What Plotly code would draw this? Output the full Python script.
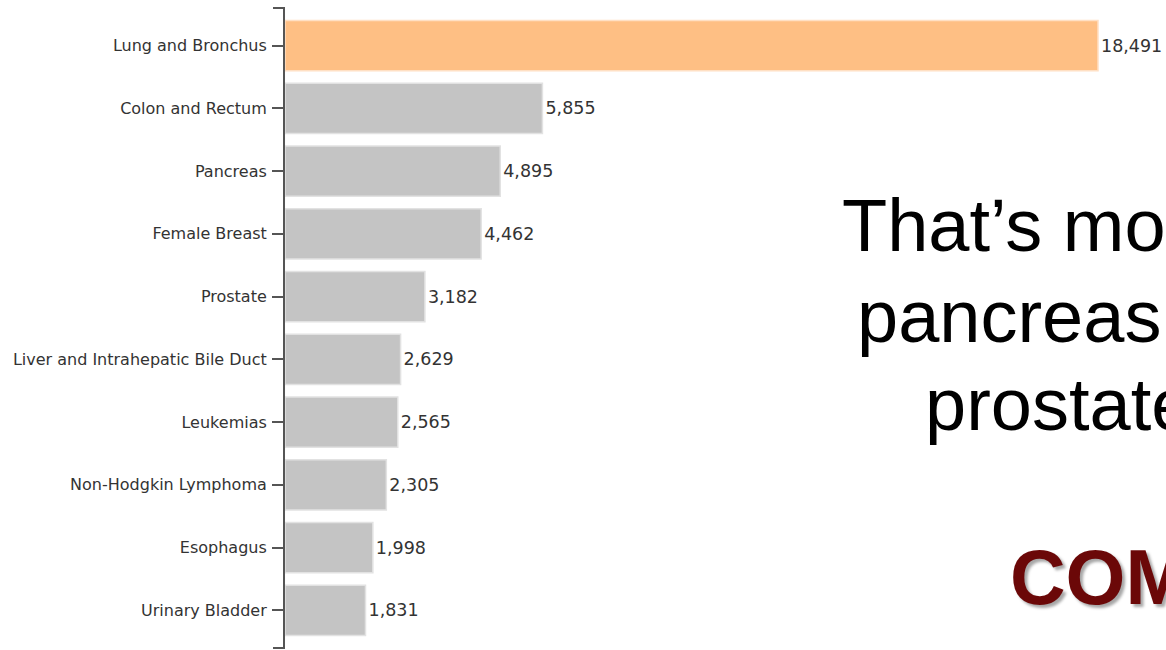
import plotly.graph_objects as go

categories = ["Lung and Bronchus", "Colon and Rectum", "Pancreas", "Female Breast",
              "Prostate", "Liver and Intrahepatic Bile Duct", "Leukemias",
              "Non-Hodgkin Lymphoma", "Esophagus", "Urinary Bladder"]
values = [18491, 5855, 4895, 4462, 3182, 2629, 2565, 2305, 1998, 1831]
highlight = "Lung and Bronchus"

slide_lines = ["That’s mo", "pancreas", "prostate"]
slide_emphasis = "COM"

W, H = 1166, 650
L, R, T, B = 285, 0, 8, 2
pw, ph = W - L - R, H - T - B

colors = ["#FEBF84" if c == highlight else "#C4C4C4" for c in categories]
lines = ["#FFE0C4" if c == highlight else "#E2E2E2" for c in categories]

fig = go.Figure(go.Bar(
    x=values, y=categories, orientation="h",
    marker=dict(color=colors, line=dict(color=lines, width=1.5)),
    text=values, texttemplate="%{x:,}", textposition="outside",
    textfont=dict(family="DejaVu Sans", size=17.5, color="#333333"),
    cliponaxis=False,
))

px_per_unit = (1098 - 285) / values[0]
fig.update_xaxes(range=[0, pw / px_per_unit], visible=False)
fig.update_yaxes(
    type="category", categoryorder="array", categoryarray=categories,
    range=[len(categories) - 0.4, -0.6],
    showline=True, linecolor="#555555", linewidth=2,
    ticks="outside", ticklen=11, tickwidth=1.5, tickcolor="#555555",
    ticklabelstandoff=2,
    tickfont=dict(family="DejaVu Sans", size=16, color="#333333"),
    showgrid=False, zeroline=False,
)

def xp(px):
    return (px - L) / pw

def yp(py):
    return (H - B - py) / ph

shapes = [
    dict(type="line", xref="paper", yref="paper", x0=xp(273), x1=xp(285), y0=1, y1=1,
         line=dict(color="#555555", width=2)),
    dict(type="line", xref="paper", yref="paper", x0=xp(273), x1=xp(285), y0=0, y1=0,
         line=dict(color="#555555", width=2)),
]

annotations = []
for txt, x0, yc in zip(slide_lines, [840, 855, 923], [225, 316, 404]):
    annotations.append(dict(text=txt, xref="paper", yref="paper", x=xp(x0), y=yp(yc),
                            xanchor="left", yanchor="middle", showarrow=False,
                            font=dict(family="Liberation Sans", size=74, color="#000000")))
annotations.append(dict(text="<b>" + slide_emphasis + "</b>", xref="paper", yref="paper",
                        x=xp(1008), y=yp(577), xanchor="left", yanchor="middle", showarrow=False,
                        font=dict(family="Liberation Sans", size=77, color="#6B0808",
                                  shadow="3px 3px 3px rgba(0,0,0,0.35)")))

fig.update_layout(
    width=W, height=H, margin=dict(l=L, r=R, t=T, b=B, pad=0),
    plot_bgcolor="white", paper_bgcolor="white",
    bargap=0.2, showlegend=False, shapes=shapes, annotations=annotations,
)

fig.write_html("out.html", config={"displayModeBar": False},
               post_script="document.body.style.margin='0';document.body.style.overflow='hidden';")
